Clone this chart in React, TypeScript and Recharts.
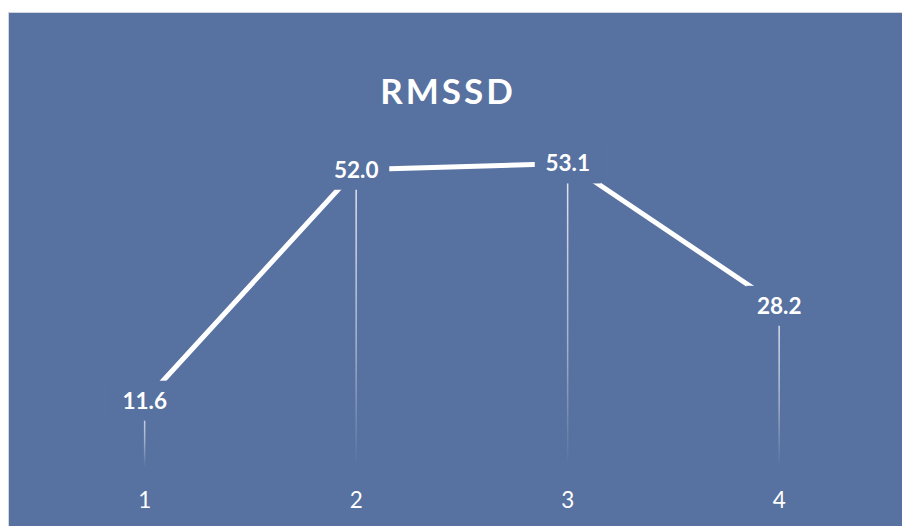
import React from "react";
import { ComposedChart, Line, Bar, XAxis, YAxis, LabelList } from "recharts";

const categories = ["1", "2", "3", "4"];
const rmssdValues = [11.6, 52.0, 53.1, 28.2];
const yDomain = [0, 60];
const chartTitle = "RMSSD";

const data = categories.map((c, i) => ({ name: c, value: rmssdValues[i] }));

const BG = "#5771a0";
const FONT = "Lato, 'Open Sans', sans-serif";

const DropLine = (props: any) => {
  const { x, y, width, height } = props;
  if (height == null || height <= 0) return null;
  return (
    <rect x={x + width / 2 - 0.75} y={y} width={1.5} height={height} fill="url(#dropGrad)" />
  );
};

const ValueLabel = (props: any) => {
  const { x, y, value } = props;
  if (x == null || y == null) return null;
  const w = 66;
  const h = 40;
  return (
    <g>
      <rect x={x - w / 2} y={y - h / 2} width={w} height={h} fill={BG} />
      <text
        x={x}
        y={y}
        dy={8}
        textAnchor="middle"
        fill="#ffffff"
        fontFamily={FONT}
        fontWeight={700}
        fontSize={22.5}
      >
        {Number(value).toFixed(1)}
      </text>
    </g>
  );
};

const Tick = (props: any) => {
  const { x, y, payload } = props;
  return (
    <text x={x} y={y} dy={33} textAnchor="middle" fill="#ffffff" fontFamily={FONT} fontSize={22.5}>
      {payload.value}
    </text>
  );
};

export default function App() {
  return (
    <div style={{ position: "absolute", left: 0, top: 0, width: 902, height: 526, background: "#ffffff", overflow: "hidden" }}>
      <div
        style={{
          position: "absolute",
          left: 8,
          top: 12,
          width: 894,
          height: 514,
          background: BG,
          borderTop: "1px solid #d4d6de",
          borderLeft: "1px solid #d4d6de",
          boxSizing: "border-box",
        }}
      />
      <div
        style={{
          position: "absolute",
          left: 1,
          top: 70,
          width: 894,
          textAlign: "center",
          color: "#ffffff",
          fontFamily: FONT,
          fontWeight: 700,
          fontSize: 35,
          letterSpacing: 3,
          lineHeight: "40px",
        }}
      >
        {chartTitle}
      </div>
      <div style={{ position: "absolute", left: 0, top: 0 }}>
        <ComposedChart width={902} height={526} data={data} margin={{ top: 124, right: 17, bottom: 29, left: 39 }}>
          <defs>
            <linearGradient id="dropGrad" x1="0" y1="0" x2="0" y2="1">
              <stop offset="0%" stopColor="#ffffff" stopOpacity={0.85} />
              <stop offset="60%" stopColor="#ffffff" stopOpacity={0.45} />
              <stop offset="100%" stopColor="#ffffff" stopOpacity={0} />
            </linearGradient>
          </defs>
          <XAxis dataKey="name" axisLine={false} tickLine={false} height={30} tick={<Tick />} interval={0} />
          <YAxis hide domain={yDomain} />
          <Bar dataKey="value" shape={<DropLine />} isAnimationActive={false} />
          <Line
            dataKey="value"
            stroke="#ffffff"
            strokeWidth={5}
            dot={false}
            activeDot={false}
            isAnimationActive={false}
          >
            <LabelList dataKey="value" content={<ValueLabel />} />
          </Line>
        </ComposedChart>
      </div>
    </div>
  );
}
